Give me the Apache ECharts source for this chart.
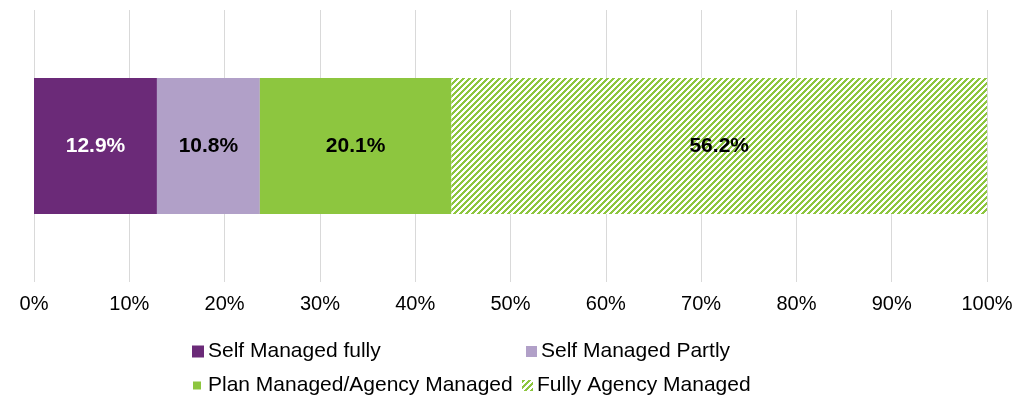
<!DOCTYPE html>
<html><head><meta charset="utf-8">
<script src="https://cdn.jsdelivr.net/npm/echarts@6/dist/echarts.min.js"></script>
<style>html,body{margin:0;padding:0;background:#fff}#c{width:1032px;height:400px}</style>
</head><body><div id="c"></div>
<script>
const categories = ['All'];
const seriesNames = ['Self Managed fully', 'Self Managed Partly', 'Plan Managed/Agency Managed', 'Fully Agency Managed'];
const selfFully = [12.9];
const selfPartly = [10.8];
const planAgency = [20.1];
const fullyAgency = [56.2];
const xTicks = [0, 10, 20, 30, 40, 50, 60, 70, 80, 90, 100];

function hatch() {
  const c = document.createElement('canvas');
  c.width = 6; c.height = 6;
  const g = c.getContext('2d');
  g.fillStyle = '#fff'; g.fillRect(0, 0, 6, 6);
  g.fillStyle = '#8DC63F';
  for (let x = 0; x < 6; x++) for (let y = 0; y < 6; y++) if (((x + y) % 6) < 3) g.fillRect(x, y, 1, 1);
  return c;
}
const hatchColor = { image: hatch(), repeat: 'repeat' };
const colors = ['#6B2A78', '#B1A0C8', '#8DC63F', hatchColor];
const labelColors = ['#fff', '#000', '#000', '#000'];
const values = [selfFully, selfPartly, planAgency, fullyAgency];

const chart = echarts.init(document.getElementById('c'));
const font = 'Liberation Sans, Arial, sans-serif';
const legendCfg = [
  { left: 187, top: 336, size: 12, pad: -1 },
  { left: 521, top: 336, size: 11, pad: -1 },
  { left: 188, top: 370, size: 8, pad: 2 },
  { left: 517, top: 370, size: 11, pad: -1 }
];
chart.setOption({
  animation: false,
  grid: { left: 34, right: 45, top: 10, bottom: 118 },
  xAxis: {
    type: 'value', min: 0, max: 100, interval: 10,
    axisLabel: { formatter: v => v + '%', fontFamily: font, fontSize: 20, color: '#000', margin: 12 },
    axisLine: { show: false }, axisTick: { show: false },
    splitLine: { lineStyle: { color: '#D9D9D9', width: 1 } }
  },
  yAxis: { type: 'category', data: categories, show: false },
  legend: seriesNames.map((n, i) => ({
    data: [n], left: legendCfg[i].left, top: legendCfg[i].top,
    itemWidth: legendCfg[i].size, itemHeight: legendCfg[i].size, itemGap: 0,
    textStyle: { fontFamily: font, fontSize: 21, color: '#000', padding: [0, 0, 0, legendCfg[i].pad] },
    icon: 'rect'
  })),
  series: seriesNames.map((n, i) => ({
    name: n, type: 'bar', stack: 's', barWidth: '50%',
    data: values[i],
    itemStyle: { color: colors[i] },
    label: { show: true, position: 'inside', formatter: p => p.value.toFixed(1) + '%', fontFamily: font, fontSize: 21, fontWeight: 'bold', color: labelColors[i] }
  }))
});
</script></body></html>
